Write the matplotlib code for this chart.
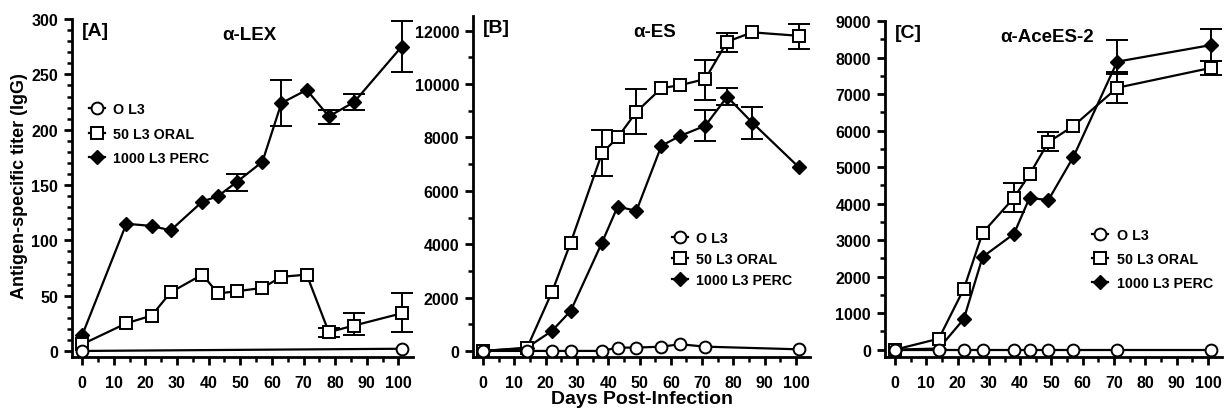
import matplotlib
matplotlib.use("Agg")
from matplotlib import pyplot as plt
from matplotlib.ticker import MultipleLocator

plt.rcParams['font.family'] = ['Liberation Sans', 'DejaVu Sans']
plt.rcParams['font.weight'] = 'bold'

# ---- data ----
days = [0, 14, 22, 28, 38, 43, 49, 57, 63, 71, 78, 86, 101]

# [A] a-LEX
A_perc = [14, 115, 113, 109, 135, 140, 153, 171, 224, 236, 212, 225, 275]
A_oral = [6, 25, 32, 53, 69, 52, 54, 57, 67, 69, 17, 23, 34]
A_zero_days = [0, 101]
A_zero = [0, 2]
A_perc_err_days = [49, 63, 78, 86, 101]
A_perc_lo = [145, 203, 205, 218, 252]
A_perc_hi = [160, 245, 218, 232, 298]
A_oral_err_days = [78, 86, 101]
A_oral_lo = [13, 14, 17]
A_oral_hi = [21, 34, 52]

# [B] a-ES
B_oral = [0, 100, 2200, 4060, 7410, 8000, 8960, 9850, 9960, 10190, 11590, 11940, 11810]
B_perc = [0, 120, 750, 1500, 4060, 5410, 5250, 7690, 8060, 8440, 9525, 8560, 6875]
B_zero_days = [0, 14, 22, 28, 38, 43, 49, 57, 63, 71, 101]
B_zero = [0, 0, 0, 0, 0, 125, 125, 160, 250, 160, 60]
B_oral_err_days = [38, 49, 71, 78, 101]
B_oral_lo = [6560, 8130, 9420, 11200, 11330]
B_oral_hi = [8290, 9800, 10920, 11920, 12250]
B_perc_err_days = [71, 78, 86]
B_perc_lo = [7870, 9200, 7940]
B_perc_hi = [9020, 9850, 9150]

# [C] a-AceES-2
C_days = [0, 14, 22, 28, 38, 43, 49, 57, 71, 101]
C_oral = [0, 300, 1665, 3200, 4160, 4800, 5685, 6125, 7175, 7720]
C_perc = [0, 30, 840, 2540, 3170, 4160, 4095, 5280, 7890, 8345]
C_zero = [0, 0, 0, 0, 0, 0, 0, 0, 0, 0]
C_oral_err_days = [38, 49, 71, 101]
C_oral_lo = [3770, 5440, 6770, 7530]
C_oral_hi = [4560, 5950, 7600, 7900]
C_perc_err_days = [71, 101]
C_perc_lo = [7550, 7900]
C_perc_hi = [8480, 8790]

labels = ["O L3", "50 L3 ORAL", "1000 L3 PERC"]


def errbars(ax, x, ys, xs_err, lo, hi):
    mid = [ys[x.index(d)] for d in xs_err]
    lower = [m - l for m, l in zip(mid, lo)]
    upper = [h - m for m, h in zip(mid, hi)]
    ax.errorbar(xs_err, mid, yerr=[lower, upper], fmt='none', ecolor='black',
                elinewidth=1.4, capsize=8, capthick=1.4, zorder=2)


def panel(ax, x, perc, oral, zx, zero, ylim, major, minor, tag, title,
          leg_anchor, title_x, spacing=0.6):
    ax.plot(x, perc, color='black', lw=1.6, marker='D', ms=7.5,
            mfc='black', mec='black', label=labels[2], zorder=3)
    ax.plot(x, oral, color='black', lw=1.6, marker='s', ms=8,
            mfc='white', mec='black', mew=1.4, label=labels[1], zorder=4)
    ax.plot(zx, zero, color='black', lw=1.6, marker='o', ms=8.5,
            mfc='white', mec='black', mew=1.4, label=labels[0], zorder=5)
    ax.set_xlim(-3.2, 104.5)
    ax.set_ylim(*ylim)
    ax.xaxis.set_major_locator(MultipleLocator(10))
    ax.xaxis.set_minor_locator(MultipleLocator(5))
    ax.yaxis.set_major_locator(MultipleLocator(major))
    ax.yaxis.set_minor_locator(MultipleLocator(minor))
    ax.set_xticks(range(0, 101, 10))
    for s in ['top', 'right']:
        ax.spines[s].set_visible(False)
    for s in ['left', 'bottom']:
        ax.spines[s].set_linewidth(2)
    ax.tick_params(which='major', length=6, width=2, labelsize=11.5, pad=7)
    ax.tick_params(which='minor', length=3.5, width=1.8)
    ax.tick_params(axis='y', pad=4)
    for t in ax.get_xticklabels() + ax.get_yticklabels():
        t.set_fontweight('bold')
    ax.text(0.03, 0.965, tag, transform=ax.transAxes, fontsize=14,
            fontweight='bold', va='center', ha='left')
    ax.text(title_x, 0.955, title, transform=ax.transAxes, fontsize=13.5,
            fontweight='bold', va='center', ha='center')
    h, l = ax.get_legend_handles_labels()
    ax.legend(h[::-1], l[::-1], loc='upper left', bbox_to_anchor=leg_anchor,
              frameon=False, handlelength=1.1, handletextpad=0.6,
              labelspacing=spacing, borderpad=0, borderaxespad=0,
              prop={'weight': 'bold', 'size': 10.3})


fig = plt.figure(figsize=(12.3, 4.1), dpi=100)
axA = fig.add_axes([0.0585, 0.127, 0.277, 0.824])
axB = fig.add_axes([0.3846, 0.127, 0.274, 0.832])
axC = fig.add_axes([0.7195, 0.127, 0.274, 0.819])

panel(axA, days, A_perc, A_oral, A_zero_days, A_zero, (-5.4, 300), 50, 10,
      "[A]", "\u03b1-LEX", (0.05, 0.755), 0.52, 0.75)
errbars(axA, days, A_perc, A_perc_err_days, A_perc_lo, A_perc_hi)
errbars(axA, days, A_oral, A_oral_err_days, A_oral_lo, A_oral_hi)

panel(axB, days, B_perc, B_oral, B_zero_days, B_zero, (-225, 12560), 2000, 1000,
      "[B]", "\u03b1-ES", (0.59, 0.37), 0.54, 0.5)
errbars(axB, days, B_perc, B_perc_err_days, B_perc_lo, B_perc_hi)
errbars(axB, days, B_oral, B_oral_err_days, B_oral_lo, B_oral_hi)

panel(axC, C_days, C_perc, C_oral, C_days, C_zero, (-200, 9000), 1000, 500,
      "[C]", "\u03b1-AceES-2", (0.615, 0.385), 0.48, 0.7)
errbars(axC, C_days, C_perc, C_perc_err_days, C_perc_lo, C_perc_hi)
errbars(axC, C_days, C_oral, C_oral_err_days, C_oral_lo, C_oral_hi)

fig.text(0.016, 0.546, "Antigen-specific titer (IgG)", rotation=90,
         ha='center', va='center', fontsize=13, fontweight='bold')
fig.text(0.522, 0.025, "Days Post-Infection", ha='center', va='center',
         fontsize=14, fontweight='bold')

fig.savefig("out.png", dpi=100)
